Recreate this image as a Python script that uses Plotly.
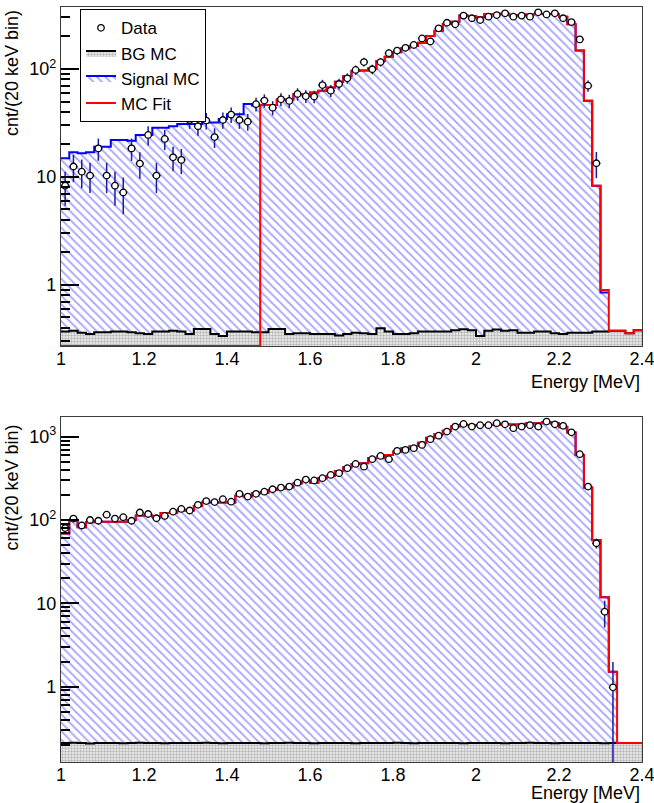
import numpy as np
import plotly.graph_objects as go

# ---------------- binning ----------------
E_MIN, BIN_W, N_BINS = 1.0, 0.02, 70
edges = np.round(E_MIN + BIN_W * np.arange(N_BINS + 1), 4)
centers = edges[:-1] + BIN_W / 2

# ---------------- top panel ----------------
top_data = [8.3, 12.5, 11.2, 10.3, 18.4, 10.3, 8.3, 7.2, 18.4, 13.3,
            24.5, 10.3, 22.5, 15.2, 14.4, 33.7, 29.5, 33.3, 23.4, 33.7,
            37.8, 33.7, 32.5, 47.2, 51.0, 43.8, 52.4, 50.6, 58.7, 56.0,
            55.5, 71.0, 63.0, 72.6, 82.0, 98.0, 116.0, 99.4, 116.0, 140.0,
            148.0, 157.0, 167.0, 192.0, 180.0, 238.0, 268.0, 259.0, 312.0, 295.0,
            284.0, 305.0, 316.0, 328.0, 305.0, 312.0, 305.0, 335.0, 320.0, 328.0,
            295.0, 272.0, 188.0, 70.0, 13.4]
top_signal = [14.9, 16.9, 16.6, 16.9, 19.1, 19.1, 22.0, 22.0, 21.6, 24.5,
              24.5, 28.5, 28.5, 29.5, 31.0, 31.0, 31.0, 32.0, 32.0, 34.5,
              38.0, 38.0, 47.5, 46.0, 46.4, 46.4, 52.3, 52.3, 58.3, 58.3,
              60.5, 63.0, 67.3, 76.3, 86.0, 95.8, 96.6, 101.0, 118.6, 130.0,
              143.0, 155.5, 163.0, 175.0, 202.0, 226.0, 261.0, 274.0, 312.0, 310.0,
              301.0, 323.0, 323.0, 325.0, 315.0, 315.0, 320.0, 323.0, 323.0, 323.0,
              305.0, 259.0, 148.0, 50.8, 8.3, 0.85]
top_fit = [0.0] * 24 + [
              46.4, 46.4, 52.3, 52.3, 58.3, 58.3,
              60.5, 63.0, 67.3, 76.3, 86.0, 95.8, 96.6, 101.0, 118.6, 130.0,
              143.0, 155.5, 163.0, 175.0, 202.0, 226.0, 261.0, 274.0, 312.0, 310.0,
              301.0, 323.0, 323.0, 325.0, 315.0, 315.0, 320.0, 323.0, 323.0, 323.0,
              305.0, 259.0, 148.0, 50.8, 8.3, 0.9, 0.377, 0.377, 0.357, 0.38]
top_bg = [0.370, 0.377, 0.362, 0.352, 0.365, 0.365, 0.370, 0.370, 0.365, 0.357,
          0.352, 0.370, 0.370, 0.377, 0.370, 0.352, 0.392, 0.392, 0.352, 0.337,
          0.370, 0.370, 0.370, 0.365, 0.365, 0.392, 0.392, 0.352, 0.357, 0.357,
          0.352, 0.352, 0.352, 0.340, 0.352, 0.362, 0.357, 0.352, 0.397, 0.370,
          0.352, 0.352, 0.357, 0.370, 0.370, 0.370, 0.370, 0.380, 0.390, 0.380,
          0.337, 0.377, 0.388, 0.377, 0.380, 0.362, 0.362, 0.370, 0.370, 0.357,
          0.352, 0.362, 0.362, 0.362, 0.370, 0.370, 0.377, 0.377, 0.357, 0.380]

# ---------------- bottom panel ----------------
bot_data = [80, 104, 86, 100, 98, 116, 104, 108, 98, 123,
            118, 105, 112, 126, 136, 130, 152, 169, 164, 178,
            166, 206, 191, 206, 219, 234, 245, 252, 281, 306,
            299, 318, 348, 365, 419, 471, 437, 537, 588, 537,
            676, 695, 728, 798, 933, 1030, 1152, 1322, 1425, 1322,
            1374, 1374, 1453, 1410, 1265, 1322, 1374, 1322, 1518, 1410,
            1350, 1130, 617, 252, 52.6, 7.94, 0.98]
bot_fit = [69, 97, 82, 94, 95.5, 95.5, 95.5, 95.5, 100, 113,
           113, 110, 121, 121, 130, 130, 147, 162, 162, 162,
           162, 195, 193, 210, 212, 230, 238, 247, 275, 295,
           281, 318, 338, 388, 430, 471, 481, 552, 560, 604,
           662, 728, 776, 849, 975, 1081, 1183, 1322, 1386, 1386,
           1386, 1386, 1386, 1410, 1400, 1400, 1453, 1453, 1505, 1453,
           1300, 1120, 604, 245, 57.7, 11.8, 1.51, 0.21, 0.21, 0.21]
bot_signal = bot_fit[:67]
bot_bg = [0.210, 0.212, 0.210, 0.208, 0.210, 0.211, 0.210, 0.209, 0.210, 0.212,
          0.210, 0.210, 0.209, 0.210, 0.211, 0.210, 0.210, 0.212, 0.210, 0.209,
          0.210, 0.210, 0.211, 0.210, 0.209, 0.210, 0.210, 0.212, 0.210, 0.210,
          0.209, 0.210, 0.211, 0.210, 0.210, 0.209, 0.210, 0.211, 0.210, 0.210,
          0.212, 0.210, 0.209, 0.210, 0.210, 0.211, 0.210, 0.210, 0.209, 0.210,
          0.210, 0.211, 0.210, 0.209, 0.210, 0.210, 0.212, 0.210, 0.210, 0.209,
          0.210, 0.210, 0.211, 0.210, 0.210, 0.209, 0.210, 0.210, 0.211, 0.210]

TOP_RANGE = [-0.565, 2.574]
BOT_RANGE = [-0.905, 3.237]

FONT = "Liberation Sans, Arial, Helvetica, sans-serif"
HATCH = dict(shape="\\", fgcolor="#4646ff", bgcolor="white", size=6, solidity=0.3)
STIPPLE = dict(shape=".", fgcolor="#7a7a7a", bgcolor="#f2f2f2", size=3, solidity=0.5)


def step_xy(vals):
    vals = list(vals)
    n = len(vals)
    return list(edges[:n + 1]), vals + [vals[-1]]


fig = go.Figure()


def add_panel(xa, ya, data, signal, fit, bg, yfloor, legend):
    sx, sy = step_xy(signal)
    fig.add_trace(go.Scatter(x=sx, y=sy, mode="lines", line_shape="hv",
                             line=dict(color="#0000ff", width=2),
                             fill="tozeroy", fillpattern=HATCH,
                             name="Signal MC", legendrank=3, showlegend=legend,
                             xaxis=xa, yaxis=ya, hoverinfo="skip"))
    bx, by = step_xy(bg)
    fig.add_trace(go.Scatter(x=bx, y=by, mode="lines", line_shape="hv",
                             line=dict(color="black", width=2),
                             fill="tozeroy", fillpattern=STIPPLE,
                             name="BG MC", legendrank=2, showlegend=legend,
                             xaxis=xa, yaxis=ya, hoverinfo="skip"))
    f = np.asarray(fit, dtype=float)
    f = np.where(f > 0, f, yfloor)
    fx, fy = step_xy(f)
    fig.add_trace(go.Scatter(x=fx, y=fy, mode="lines", line_shape="hv",
                             line=dict(color="#ff0000", width=2),
                             name="MC Fit", legendrank=4, showlegend=legend,
                             xaxis=xa, yaxis=ya, hoverinfo="skip"))
    d = np.asarray(data, dtype=float)
    fig.add_trace(go.Scatter(x=centers[:len(d)], y=d, mode="markers",
                             marker=dict(symbol="circle", size=6.5, color="white",
                                         line=dict(color="black", width=1.3)),
                             error_y=dict(type="data", array=np.sqrt(d), color="#1a1aa8",
                                          thickness=1.5, width=0),
                             error_x=dict(type="constant", value=BIN_W / 2, color="#1a1aa8",
                                          thickness=1.5, width=0),
                             name="Data", legendrank=1, showlegend=legend,
                             xaxis=xa, yaxis=ya))


add_panel("x", "y", top_data, top_signal, top_fit, top_bg, 10 ** TOP_RANGE[0], True)
add_panel("x2", "y2", bot_data, bot_signal, bot_fit, bot_bg, 10 ** BOT_RANGE[0], False)


def minor_vals(lo, hi):
    out = []
    for dec in range(int(np.floor(lo)), int(np.ceil(hi)) + 1):
        for m in range(2, 10):
            v = m * 10.0 ** dec
            if 10 ** lo <= v <= 10 ** hi:
                out.append(v)
    return out


TICK_FS = 18
axis_common = dict(showgrid=False, zeroline=False, showline=True, mirror=True,
                   linecolor="#3a3a3a", linewidth=1.2, automargin=False,
                   ticklabeloverflow="allow",
                   tickfont=dict(family=FONT, size=TICK_FS, color="black"))

xticks = [1, 1.2, 1.4, 1.6, 1.8, 2, 2.2, 2.4]
xtext = ["1", "1.2", "1.4", "1.6", "1.8", "2", "2.2", "2.4"]

TOP_DOM = [0.551, 1.0]
BOT_DOM = [0.0, 0.457]

fig.update_layout(
    width=654, height=803,
    margin=dict(l=61, r=12, t=7, b=41, autoexpand=False),
    paper_bgcolor="white", plot_bgcolor="white",
    font=dict(family=FONT, size=18, color="black"),
    xaxis=dict(domain=[0, 1], range=[1, 2.4], anchor="y", tickvals=xticks, ticktext=xtext,
               ticks="", ticklabelstandoff=-4, **axis_common),
    yaxis=dict(domain=TOP_DOM, type="log", range=TOP_RANGE, anchor="x",
               tickvals=[1, 10, 100], ticktext=["1", "10", "10<sup>2</sup>"],
               ticks="inside", ticklen=18, tickwidth=1.5, tickcolor="black",
               minor=dict(tickmode="array", tickvals=minor_vals(*TOP_RANGE),
                          ticks="inside", ticklen=9, tickwidth=1.5, tickcolor="black"),
               **axis_common),
    xaxis2=dict(domain=[0, 1], range=[1, 2.4], anchor="y2", tickvals=xticks, ticktext=xtext,
                ticks="", ticklabelstandoff=-4, **axis_common),
    yaxis2=dict(domain=BOT_DOM, type="log", range=BOT_RANGE, anchor="x2",
                tickvals=[1, 10, 100, 1000], ticktext=["1", "10", "10<sup>2</sup>", "10<sup>3</sup>"],
                ticks="inside", ticklen=18, tickwidth=1.5, tickcolor="black",
                minor=dict(tickmode="array", tickvals=minor_vals(*BOT_RANGE),
                           ticks="inside", ticklen=9, tickwidth=1.5, tickcolor="black"),
                **axis_common),
    legend=dict(x=0.0327, y=0.997, xanchor="left", yanchor="top",
                bgcolor="white", bordercolor="black", borderwidth=1,
                font=dict(family=FONT, size=17, color="black"),
                itemwidth=30, traceorder="normal"),
    showlegend=True,
)

ann_font = dict(family=FONT, size=18, color="black")
fig.add_annotation(text="Energy [MeV]", xref="paper", yref="paper", x=1.0, y=0.503,
                   xanchor="right", yanchor="middle", showarrow=False, font=ann_font)
fig.add_annotation(text="Energy [MeV]", xref="paper", yref="paper", x=1.0, y=-0.041,
                   xanchor="right", yanchor="middle", showarrow=False, font=ann_font)
fig.add_annotation(text="cnt/(20 keV bin)", xref="paper", yref="paper", x=-0.084, y=0.999,
                   xanchor="center", yanchor="top", textangle=-90, showarrow=False, font=ann_font)
fig.add_annotation(text="cnt/(20 keV bin)", xref="paper", yref="paper", x=-0.084, y=0.45,
                   xanchor="center", yanchor="top", textangle=-90, showarrow=False, font=ann_font)

fig.write_html("out.html")
